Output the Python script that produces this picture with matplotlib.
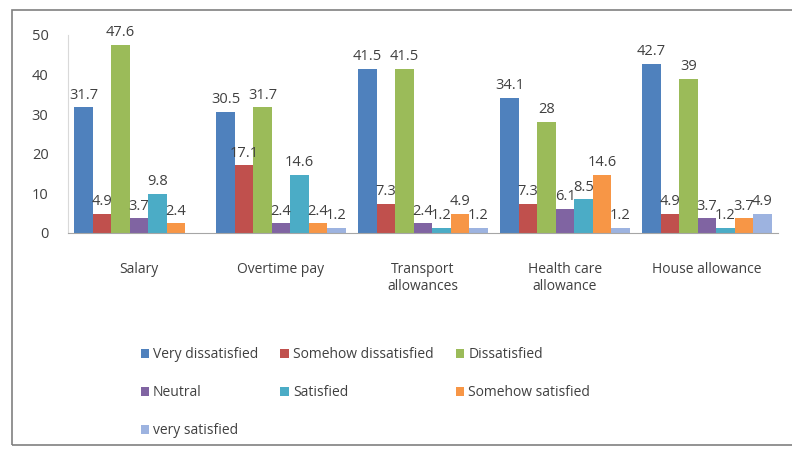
import matplotlib
matplotlib.use("Agg")
import matplotlib.pyplot as plt
import numpy as np
from matplotlib.patches import Rectangle

categories = ["Salary", "Overtime pay", "Transport\nallowances", "Health care\nallowance", "House allowance"]
series_names = ["Very dissatisfied", "Somehow dissatisfied", "Dissatisfied", "Neutral",
                "Satisfied", "Somehow satisfied", "very satisfied"]
very_dissatisfied = [31.7, 30.5, 41.5, 34.1, 42.7]
somehow_dissatisfied = [4.9, 17.1, 7.3, 7.3, 4.9]
dissatisfied = [47.6, 31.7, 41.5, 28, 39]
neutral = [3.7, 2.4, 2.4, 6.1, 3.7]
satisfied = [9.8, 14.6, 1.2, 8.5, 1.2]
somehow_satisfied = [2.4, 2.4, 4.9, 14.6, 3.7]
very_satisfied = [0, 1.2, 1.2, 1.2, 4.9]
series = [very_dissatisfied, somehow_dissatisfied, dissatisfied, neutral,
          satisfied, somehow_satisfied, very_satisfied]
colors = ["#4F81BD", "#C0504D", "#9BBB59", "#8064A2", "#4BACC6", "#F79646", "#9DB3E0"]

plt.rcParams['font.family'] = ['Open Sans', 'DejaVu Sans']
txt = "#404040"

fig = plt.figure(figsize=(7.92, 4.5), dpi=100)
ax = fig.add_axes([68/792, 1-233/450, 710/792, 198/450])

x = np.arange(len(categories))
w = 0.13
for i, (vals, c, name) in enumerate(zip(series, colors, series_names)):
    pos = x + (i - 3) * w
    ax.bar(pos, vals, width=w, color=c, label=name, zorder=2)
    for p, v in zip(pos, vals):
        if v > 0:
            ax.text(p, v + 1.2, f"{v:g}", ha="center", va="bottom", fontsize=10.5, color=txt, zorder=3)

ax.set_xlim(-0.5, len(categories) - 0.5)
ax.set_ylim(0, 50)
ax.set_yticks([0, 10, 20, 30, 40, 50])
ax.set_xticks(x)
ax.set_xticklabels(categories, fontsize=10, color=txt, linespacing=1.15)
ax.tick_params(axis="y", labelsize=10.5, colors=txt, length=0, pad=14)
ax.tick_params(axis="x", length=0, pad=21)
for s in ["top", "right"]:
    ax.spines[s].set_visible(False)
ax.spines["left"].set_color("#D9D9D9")
ax.spines["bottom"].set_color("#A6A6A6")

handles, labels = ax.get_legend_handles_labels()
order = [0, 3, 6, 1, 4, 2, 5]
fig.legend([handles[k] for k in order], [labels[k] for k in order],
           ncol=3, loc="upper left", bbox_to_anchor=(128/792, 1-335/450),
           frameon=False, fontsize=10, handlelength=0.6, handleheight=0.6,
           handletextpad=0.3, columnspacing=1.6, labelspacing=1.65, labelcolor=txt)

fig.patches.append(Rectangle((12/792, 5/450), 1.0, 1-15/450, transform=fig.transFigure,
                             fill=False, edgecolor="#808080", linewidth=1.2))

fig.savefig("out.png", dpi=100)
